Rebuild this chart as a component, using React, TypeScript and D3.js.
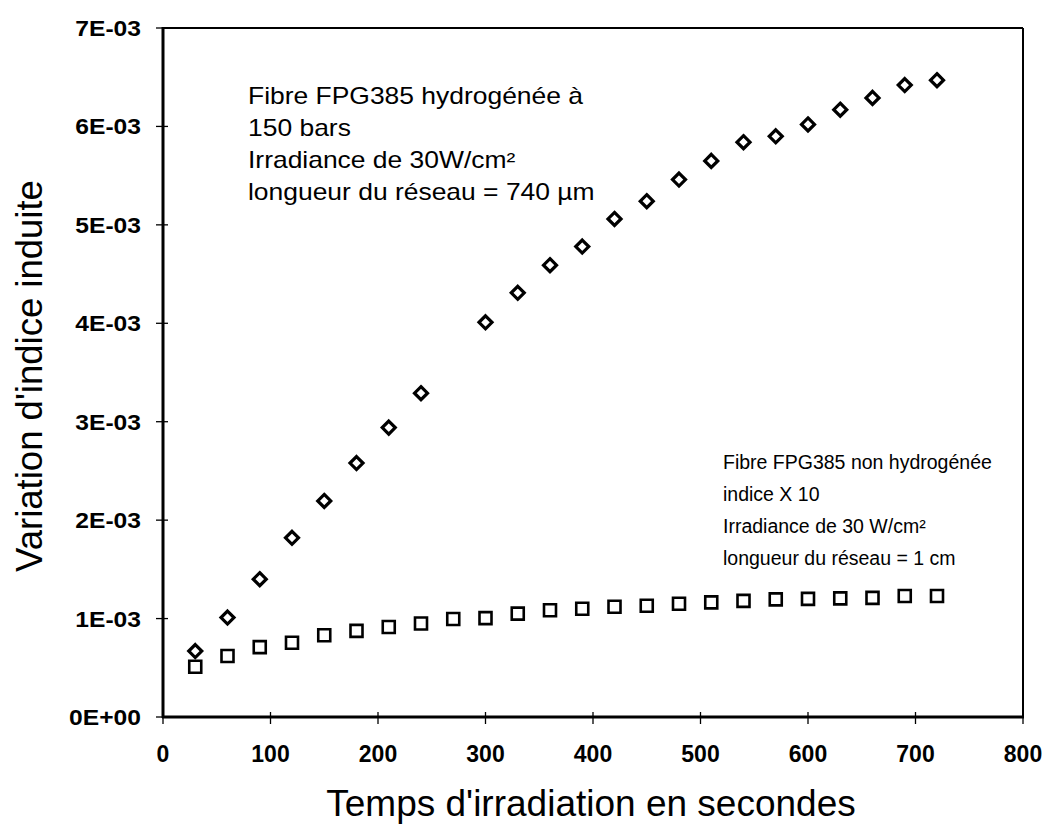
import React from "react";
import * as d3 from "d3";

const hydroTime = [30, 60, 90, 120, 150, 180, 210, 240, 300, 330, 360, 390, 420, 450, 480, 510, 540, 570, 600, 630, 660, 690, 720];
const hydroIndex = [0.67e-3, 1.01e-3, 1.40e-3, 1.82e-3, 2.195e-3, 2.58e-3, 2.94e-3, 3.29e-3, 4.01e-3, 4.31e-3, 4.59e-3, 4.78e-3, 5.06e-3, 5.24e-3, 5.46e-3, 5.65e-3, 5.84e-3, 5.90e-3, 6.02e-3, 6.17e-3, 6.29e-3, 6.42e-3, 6.47e-3];

const nonHydroTime = [30, 60, 90, 120, 150, 180, 210, 240, 270, 300, 330, 360, 390, 420, 450, 480, 510, 540, 570, 600, 630, 660, 690, 720];
const nonHydroIndex = [0.51e-3, 0.62e-3, 0.71e-3, 0.755e-3, 0.83e-3, 0.875e-3, 0.915e-3, 0.95e-3, 0.995e-3, 1.005e-3, 1.05e-3, 1.085e-3, 1.10e-3, 1.12e-3, 1.13e-3, 1.15e-3, 1.165e-3, 1.18e-3, 1.195e-3, 1.20e-3, 1.205e-3, 1.21e-3, 1.23e-3, 1.23e-3];

const xTicks = [0, 100, 200, 300, 400, 500, 600, 700, 800];
const yTicks = [0, 1e-3, 2e-3, 3e-3, 4e-3, 5e-3, 6e-3, 7e-3];
const yTickLabels = ["0E+00", "1E-03", "2E-03", "3E-03", "4E-03", "5E-03", "6E-03", "7E-03"];

const note1 = ["Fibre FPG385 hydrogénée à", "150 bars", "Irradiance de 30W/cm²", "longueur du réseau = 740 µm"];
const note2 = ["Fibre FPG385 non hydrogénée", "indice X 10", "Irradiance de 30 W/cm²", "longueur du réseau = 1 cm"];

const xTitle = "Temps d'irradiation en secondes";
const yTitle = "Variation d'indice induite";

const W = 1048, H = 827;
const left = 163, right = 1023, top = 28, bottom = 717;
const FONT = "'Liberation Sans', Arial, Helvetica, sans-serif";

export default function App() {
  const x = d3.scaleLinear().domain([0, 800]).range([left, right]);
  const y = d3.scaleLinear().domain([0, 7e-3]).range([bottom, top]);

  const diamond = "M0,-6.5L6.5,0L0,6.5L-6.5,0Z";
  const square = "M-6,-6H6V6H-6Z";

  return (
    <svg width={W} height={H} style={{ position: "absolute", left: 0, top: 0, background: "#fff" }} fontFamily={FONT}>
      <rect x={0} y={0} width={W} height={H} fill="#fff" />
      {/* frame */}
      <line x1={left} y1={top} x2={right} y2={top} stroke="#000" strokeWidth={2} />
      <line x1={right} y1={top} x2={right} y2={bottom} stroke="#000" strokeWidth={2} />
      <line x1={left} y1={top - 1} x2={left} y2={bottom + 1} stroke="#000" strokeWidth={3} />
      <line x1={left - 1} y1={bottom} x2={right + 1} y2={bottom} stroke="#000" strokeWidth={3} />

      {/* y ticks */}
      {yTicks.map((t, i) => (
        <g key={"y" + i}>
          <line x1={left - 7} x2={left + 5} y1={y(t)} y2={y(t)} stroke="#000" strokeWidth={1.3} />
          <g transform={`translate(${left - 22},${y(t) + 8}) scale(1.12,1)`}>
            <text textAnchor="end" fontSize={22} fontWeight="bold" fill="#000">{yTickLabels[i]}</text>
          </g>
        </g>
      ))}
      {/* x ticks */}
      {xTicks.map((t, i) => (
        <g key={"x" + i}>
          <line x1={x(t)} x2={x(t)} y1={bottom - 5} y2={bottom + 7} stroke="#000" strokeWidth={1.3} />
          <text x={x(t)} y={bottom + 45} textAnchor="middle" fontSize={23} fontWeight="bold" fill="#000">{t}</text>
        </g>
      ))}

      {/* data */}
      {nonHydroTime.map((t, i) => (
        <path key={"s" + i} d={square} transform={`translate(${x(t)},${y(nonHydroIndex[i])})`} fill="#fff" stroke="#000" strokeWidth={2.6} />
      ))}
      {hydroTime.map((t, i) => (
        <path key={"d" + i} d={diamond} transform={`translate(${x(t)},${y(hydroIndex[i])})`} fill="#fff" stroke="#000" strokeWidth={3.2} />
      ))}

      {/* annotations */}
      {note1.map((s, i) => (
        <g key={"n1" + i} transform={`translate(248,${104 + i * 32}) scale(1.15,1)`}>
          <text fontSize={23} fill="#000">{s}</text>
        </g>
      ))}
      {note2.map((s, i) => (
        <text key={"n2" + i} x={723} y={469 + i * 32} fontSize={19.5} fill="#000">{s}</text>
      ))}

      {/* titles */}
      <text x={(left + right) / 2 - 2} y={816} textAnchor="middle" fontSize={37} fill="#000">{xTitle}</text>
      <text transform={`translate(42,${376}) rotate(-90)`} textAnchor="middle" fontSize={36.5} fill="#000">{yTitle}</text>
    </svg>
  );
}
